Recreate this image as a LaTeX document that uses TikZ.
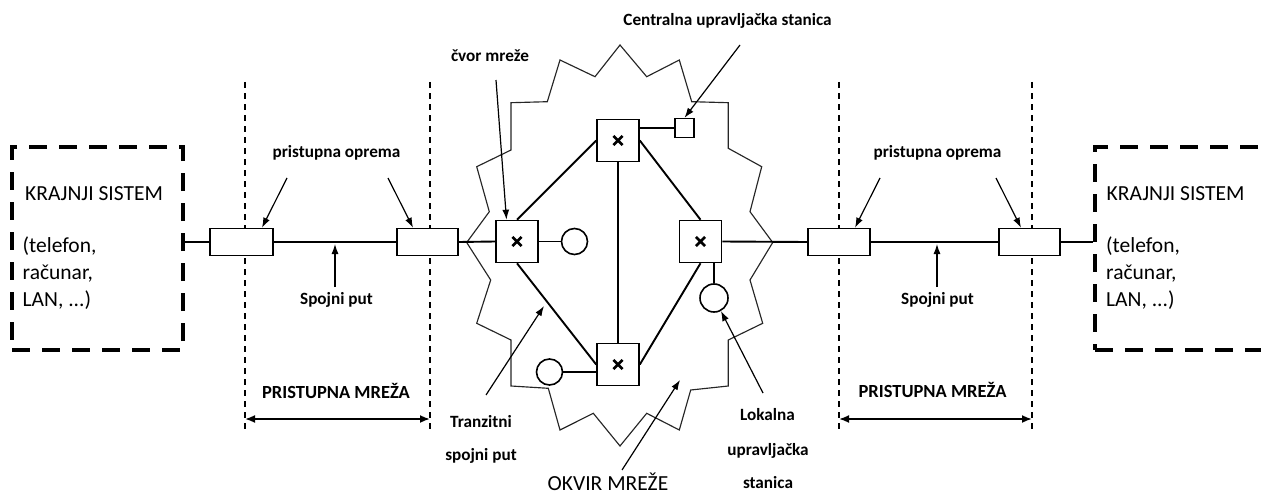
\documentclass[tikz,border=0pt]{standalone}
\usepackage{fontspec}
\setmainfont{Carlito}
\usetikzlibrary{arrows.meta}
\begin{document}
\begin{tikzpicture}[x=1pt,y=-1pt,
  lbl/.style={font=\bfseries\fontsize{17.2}{18}\selectfont, inner sep=0pt},
  bigbold/.style={font=\bfseries\fontsize{18.5}{20}\selectfont, inner sep=0pt},
  big/.style={font=\fontsize{21.5}{22}\selectfont, inner sep=0pt},
  sysbox/.style={draw, line width=4.5pt, dash pattern=on 18pt off 12pt,
                 minimum width=171pt, minimum height=203pt, inner sep=0pt},
  equip/.style={draw, fill=white, line width=1.6pt, minimum width=62pt,
                minimum height=27pt, inner sep=0pt},
  xnode/.style={draw, fill=white, line width=1.6pt, minimum size=42pt, inner sep=0pt,
    path picture={
      \draw[line width=2.8pt]
        ([shift={(-4.6pt,-4.6pt)}]path picture bounding box.center) --
        ([shift={(4.6pt,4.6pt)}]path picture bounding box.center)
        ([shift={(-4.6pt,4.6pt)}]path picture bounding box.center) --
        ([shift={(4.6pt,-4.6pt)}]path picture bounding box.center);}},
  station/.style={draw, fill=white, circle, line width=1.6pt, minimum size=26pt, inner sep=0pt},
  central/.style={draw, fill=white, line width=1.4pt, minimum size=19pt, inner sep=0pt},
  link/.style={line width=1.9pt},
  divider/.style={line width=1.3pt, dash pattern=on 6pt off 5pt},
  frame/.style={line width=1.15pt, draw=black!85},
  pointer/.style={line width=1.2pt, -{Latex[length=10pt,width=7pt]}},
  span/.style={line width=1.8pt, {Latex[length=10pt,width=8pt]}-{Latex[length=10pt,width=8pt]}}
]
\clip (0,0) rectangle (1261,495);

% access-network boundaries
\draw[divider] (245,82) coordinate (d1t) -- (245,430) coordinate (d1b);
\draw[divider] (430,82) coordinate (d2t) -- (430,430) coordinate (d2b);
\draw[divider] (839,82) coordinate (d3t) -- (839,430) coordinate (d3b);
\draw[divider] (1032,82) coordinate (d4t) -- (1032,430) coordinate (d4b);

% network frame
\draw[frame] (620,45) -- (646.7,76.7) -- (679.3,60) -- (691.7,101.7) -- (728.3,102.7)
  -- (728.3,148.3) -- (761.7,166.7) -- (750,211.7) -- (772.7,242.5) -- (750,280)
  -- (762.7,323.3) -- (728.3,340) -- (728.3,386) -- (690.7,390) -- (679.3,430)
  -- (646.7,413.3) -- (620,446) -- (593.3,413.3) -- (560,430) -- (548.3,388.3)
  -- (511,386) -- (511,340) -- (476.7,323.3) -- (490.7,280) -- (466.7,242.5)
  -- (489.3,211.7) -- (476.7,166.7) -- (511,150) -- (511,102.7) -- (547.3,101.7)
  -- (560,60) -- (595,76.7) -- cycle;

% end systems
\node[sysbox] (lsys) at (97.5,248.5) {};
\node[sysbox, minimum width=220pt] (rsys) at (1205,248.5) {};

% access equipment
\node[equip, minimum width=63pt] (l1) at (241.5,242) {};
\node[equip, minimum width=61pt] (l2) at (427.5,242) {};
\node[equip] (r1) at (839,242) {};
\node[equip, minimum width=61pt] (r2) at (1029.5,242) {};

% network nodes
\node[xnode] (tn) at (618,140.5) {};
\node[xnode] (ln) at (517,241.5) {};
\node[xnode] (rn) at (700.5,241.5) {};
\node[xnode] (bn) at (618,364.5) {};
\node[central] (cs) at (684.5,128) {};
\node[station] (c1) at (574.5,241.5) {};
\node[station] (c2) at (549.5,372) {};
\node[station, minimum height=28pt] (c3) at (714,298) {};

% connection path
\draw[link] (lsys.east |- l1.west) -- (l1.west);
\draw[link] (l1.east) -- (l2.west);
\draw[link] (l2.east) -- (ln.west);
\draw[link] (ln.east) -- (c1.west);
\draw[link] (rn.east) -- (r1.west);
\draw[link] (r1.east) -- (r2.west);
\draw[link] (r2.east) -- (rsys.west |- r2.east);

% links inside the network
\draw[link] (tn.west) -- (ln.north);
\draw[link] (tn.east) -- (rn.north);
\draw[link] (ln.south) -- (bn.west);
\draw[link] (rn.south) -- (bn.east);
\draw[link] (tn.south) -- (bn.north);
\draw[line width=1.4pt] (tn.east |- cs.west) -- (cs.west);
\draw[line width=1.4pt] (c2.east) -- (bn.west |- c2.east);
\draw[line width=1.4pt] (rn.south -| c3.north) -- (c3.north);

% texts of the end systems
\node[big, anchor=base west] (lks) at (25,200) {KRAJNJI SISTEM};
\node[big, anchor=base west] (lt1) at (22.5,252.5) {(telefon,};
\node[big, anchor=base west] (lt2) at (22.5,279.5) {računar,};
\node[big, anchor=base west] (lt3) at (22.5,306.5) {LAN, ...)};
\node[big, anchor=base west] (rks) at (1106.5,200) {KRAJNJI SISTEM};
\node[big, anchor=base west] (rt1) at (1106,252.5) {(telefon,};
\node[big, anchor=base west] (rt2) at (1106,279.5) {računar,};
\node[big, anchor=base west] (rt3) at (1106,306.5) {LAN, ...)};

% access equipment labels
\node[lbl, anchor=base] (lpo) at (336.5,157) {pristupna oprema};
\node[lbl, anchor=base] (rpo) at (937.5,157) {pristupna oprema};
\coordinate (lpoa) at (287,178);
\coordinate (lpob) at (388,178);
\coordinate (rpoa) at (880,178);
\coordinate (rpob) at (996,178);
\draw[pointer] (lpoa) -- ([xshift=20.5pt]l1.north);
\draw[pointer] (lpob) -- ([xshift=-14.5pt]l2.north);
\draw[pointer] (rpoa) -- ([xshift=16pt]r1.north);
\draw[pointer] (rpob) -- ([xshift=-8.5pt]r2.north);

% connection path labels
\node[lbl, anchor=base] (lsp) at (336.5,304) {Spojni put};
\node[lbl, anchor=base] (rsp) at (937.5,304) {Spojni put};
\coordinate (lspl) at (335,244);
\coordinate (rspl) at (937,244);
\draw[pointer] (335,287) -- (lspl);
\draw[pointer] (937,287) -- (rspl);

% access network spans
\node[bigbold, anchor=base] (lpm) at (336,398.5) {PRISTUPNA MREŽA};
\node[bigbold, anchor=base] (rpm) at (932.5,397.5) {PRISTUPNA MREŽA};
\draw[span] (d1b |- 0,419) -- (d2b |- 0,419);
\draw[span] (d3b |- 0,419) -- (d4b |- 0,419);

% network labels
\node[lbl, anchor=base] (cvm) at (490,61.5) {čvor mreže};
\draw[pointer] (496,80) -- ([xshift=-10.5pt]ln.north);
\node[lbl, anchor=base] (cus) at (727.5,25.5) {Centralna upravljačka stanica};
\draw[pointer] (740,45) -- (cs.north);
\node[lbl, anchor=base] (tr1) at (481,427.5) {Tranzitni};
\node[lbl, anchor=base] (tr2) at (481,460) {spojni put};
\coordinate (trs) at (486,395);
\coordinate (tre) at (544,306);
\draw[pointer] (trs) -- (tre);
\node[big, anchor=base] (okv) at (608,490.5) {OKVIR MREŽE};
\coordinate (oks) at (622,470);
\coordinate (oke) at (680,380);
\draw[pointer] (oks) -- (oke);
\node[lbl, anchor=base] (lu1) at (767.5,420) {Lokalna};
\node[lbl, anchor=base] (lu2) at (768,455) {upravljačka};
\node[lbl, anchor=base] (lu3) at (768,488.5) {stanica};
\coordinate (lus) at (763,393);
\draw[pointer] (lus) -- (c3.-62);
\end{tikzpicture}
\end{document}
